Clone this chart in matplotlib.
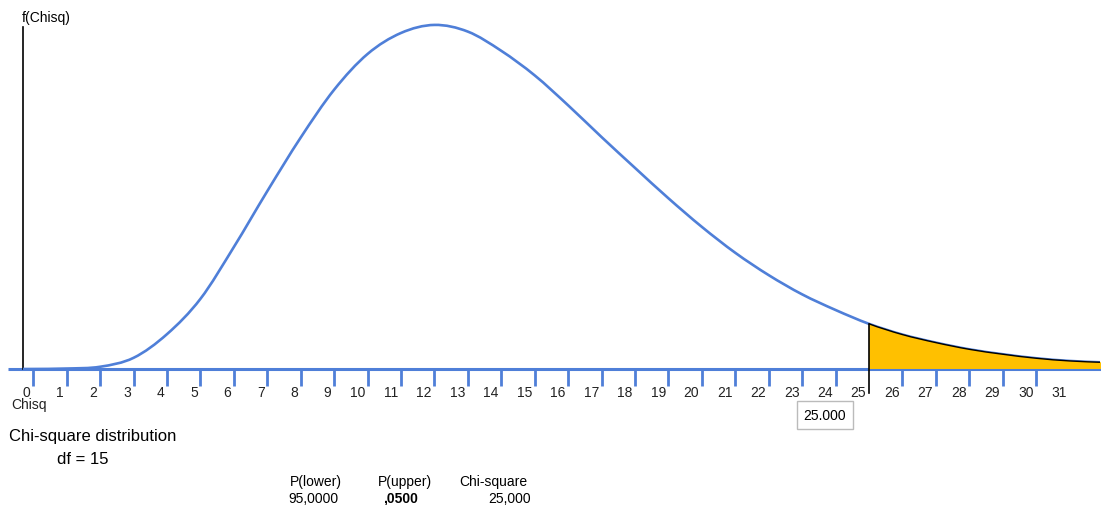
import numpy as np
import matplotlib
matplotlib.use("Agg")
import matplotlib.pyplot as plt
from matplotlib.path import Path
from matplotlib.patches import PathPatch

# values (x in axis-label units, y = density)
curve_x = [-0.31, 0, 1, 2, 3, 4, 5, 6, 7, 8, 9, 10, 11, 12, 13, 14, 15, 16,
           17, 18, 19, 20, 21, 22, 23, 24, 25, 26, 27, 28, 29, 30, 31, 31.91]
curve_y = [0.0, 0.0, 0.0001, 0.0005, 0.0025, 0.0078, 0.0157, 0.0273, 0.0398,
           0.0518, 0.0625, 0.0705, 0.0752, 0.0770, 0.0755, 0.0712, 0.0657,
           0.0590, 0.0519, 0.0450, 0.0382, 0.0318, 0.0260, 0.0210, 0.0167,
           0.0132, 0.0101, 0.0077, 0.0059, 0.0044, 0.0033, 0.0024, 0.0018,
           0.0015]
tick_pos = list(range(0, 31))
tick_labels = [str(k) for k in range(0, 32)]
crit = 25
df_val = 15
p_lower = "95,0000"
p_upper = ",0500"
chi_val = "25,000"

W, H = 1101, 506
BLUE = "#4f7fd8"
GOLD = "#ffc000"
FONT = "Liberation Sans"
FS = 10


def px(x, y):
    return x / W, 1 - y / H


def bezier_segments(xs, ys):
    # smooth drawing through the read points (Catmull-Rom as cubic Bezier)
    p = np.column_stack([xs, ys])
    n = len(p)
    segs = []
    for i in range(n - 1):
        p0 = p[max(i - 1, 0)]
        p1 = p[i]
        p2 = p[i + 1]
        p3 = p[min(i + 2, n - 1)]
        segs.append((p1, p1 + (p2 - p0) / 6, p2 - (p3 - p1) / 6, p2))
    return segs


def segs_to_path(segs, closing=None):
    verts = [segs[0][0]]
    codes = [Path.MOVETO]
    for s in segs:
        verts += [s[1], s[2], s[3]]
        codes += [Path.CURVE4] * 3
    if closing is not None:
        for c in closing:
            verts.append(c)
            codes.append(Path.LINETO)
        verts.append(segs[0][0])
        codes.append(Path.CLOSEPOLY)
    return Path(verts, codes)


fig = plt.figure(figsize=(W / 100, H / 100), dpi=100)
ax = fig.add_axes([0, 0, 1, 1])
ax.set_xlim(-0.996, 31.94)
ax.set_ylim(-0.03044, 0.0828)
ax.axis("off")

segs = bezier_segments(curve_x, curve_y)
i_crit = curve_x.index(crit)
tail = segs[i_crit:]

# baseline and ticks
ax.plot([-0.757, 31.94], [0, 0], color=BLUE, lw=2.2, zorder=2, solid_capstyle="butt")
ax.vlines([t for t in tick_pos if t != crit], -0.0038, 0, color=BLUE, lw=2.0, zorder=2)
for k, lab in enumerate(tick_labels):
    ax.text(k - 0.08, -0.0035, lab, ha="right", va="top", fontsize=FS,
            family=FONT, color="#222222")

# y axis line
ax.plot([-0.31, -0.31], [0, 0.0765], color="black", lw=1.2, zorder=3)

# curve and shaded tail
ax.add_patch(PathPatch(segs_to_path(segs), fill=False, ec=BLUE, lw=1.9, zorder=3))
end_x = curve_x[-1]
fill_path = segs_to_path(tail, closing=[(end_x + 0.1, curve_y[-1]), (end_x + 0.1, 0), (crit, 0)])
ax.add_patch(PathPatch(fill_path, fc=GOLD, ec="none", zorder=4))
ax.add_patch(PathPatch(segs_to_path(tail), fill=False, ec="black", lw=1.0, zorder=5))
ax.plot([crit, crit], [-0.0053, curve_y[i_crit]], color="black", lw=1.2, zorder=5)

# texts
fig.text(*px(22, 18), "f(Chisq)", ha="left", va="center", fontsize=FS, family=FONT)
fig.text(*px(11, 405), "Chisq", ha="left", va="center", fontsize=FS, family=FONT,
         color="#222222")
fig.text(*px(825, 416), "25.000", ha="center", va="center", fontsize=FS, family=FONT,
         bbox=dict(boxstyle="square,pad=0.5", fc="white", ec="#bbbbbb", lw=1))
fig.text(*px(9, 437), "Chi-square distribution", ha="left", va="center",
         fontsize=12, family=FONT)
fig.text(*px(57, 460), f"df = {df_val}", ha="left", va="center", fontsize=12, family=FONT)

fig.text(*px(316, 482), "P(lower)", ha="center", va="center", fontsize=FS, family=FONT)
fig.text(*px(405, 482), "P(upper)", ha="center", va="center", fontsize=FS, family=FONT)
fig.text(*px(493, 482), "Chi-square", ha="center", va="center", fontsize=FS, family=FONT)
fig.text(*px(313, 499), p_lower, ha="center", va="center", fontsize=FS, family=FONT)
fig.text(*px(400, 499), p_upper, ha="center", va="center", fontsize=FS, family=FONT,
         weight="bold")
fig.text(*px(531, 499), chi_val, ha="right", va="center", fontsize=FS, family=FONT)

fig.savefig("out.png", dpi=100)
